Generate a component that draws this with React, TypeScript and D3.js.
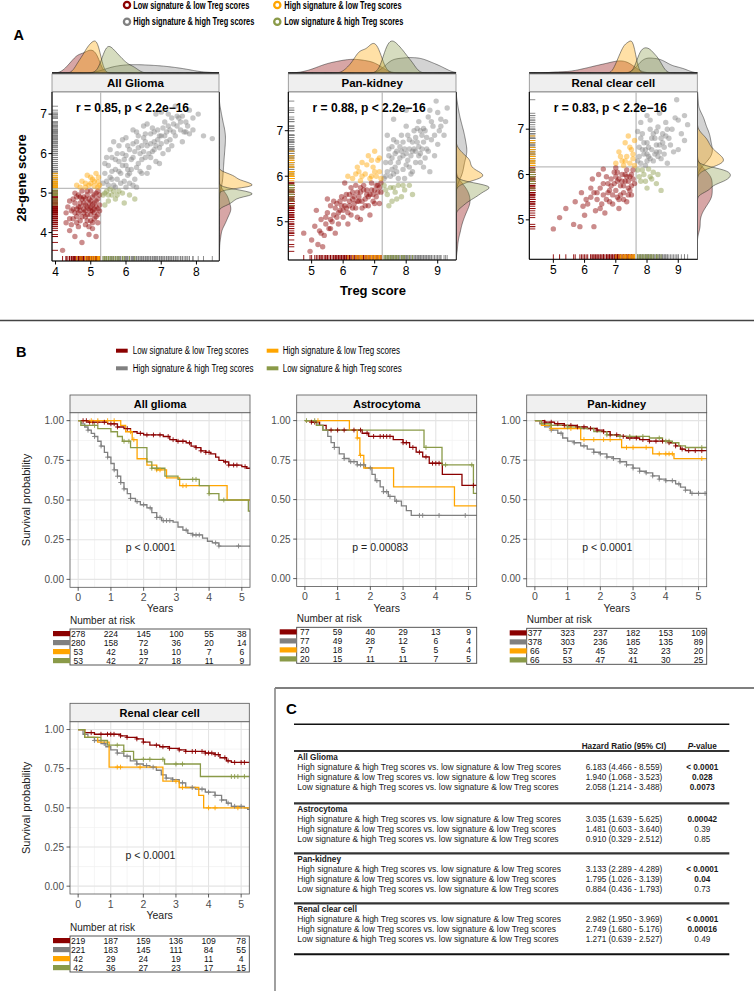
import React from 'react';
import * as d3 from 'd3';

type P = [number, number];
const FONT = "'Liberation Sans', Arial, Helvetica, sans-serif";

// ---------- groups ----------
const GROUP_LABELS = [
  'Low signature & low Treg scores',
  'High signature & high Treg scores',
  'High signature & low Treg scores',
  'Low signature & high Treg scores',
];
const GROUP_COLORS = ['#8B0000', '#808080', '#FFA500', '#8A9A48'];

// ---------- Panel A data (Treg score, 28-gene score) ----------
const GLIOMA_LL: P[] = [[4.3,4.5],[4.4,4.8],[4.45,4.2],[4.5,4.6],[4.55,5.0],[4.6,4.4],[4.6,4.9],[4.65,4.65],[4.7,4.3],[4.7,4.75],[4.75,5.05],[4.8,4.5],[4.8,4.9],[4.85,4.2],[4.85,4.7],[4.9,4.95],[4.9,4.45],[4.95,4.6],[5.0,4.8],[5.0,4.3],[5.0,5.05],[5.05,4.55],[5.1,4.75],[5.1,4.95],[5.15,4.4],[5.15,4.65],[5.2,4.85],[5.2,5.05],[5.25,4.55],[5.25,4.7],[4.4,4.05],[4.55,3.9],[4.75,3.75],[4.2,3.55],[5.05,4.1],[4.95,3.95],[4.65,4.15],[5.2,4.25],[4.5,4.35],[4.35,4.65],[4.9,5.05],[5.1,4.5],[4.8,4.6],[5.0,4.65],[4.7,4.55],[5.15,3.9],[4.55,4.75],[4.65,4.95],[4.75,4.4],[4.85,4.85],[4.95,4.75],[5.05,4.9],[5.15,4.8],[5.2,4.6],[4.7,4.9],[4.85,4.55],[5.0,4.45],[5.1,4.35],[4.6,4.6],[5.25,4.95],[4.9,4.3],[4.45,4.55],[4.5,4.85],[4.6,4.25],[4.7,4.65],[4.75,4.85],[4.8,4.75],[4.85,4.4],[4.9,4.65],[4.95,4.85],[5.0,4.55],[5.05,4.7],[5.1,4.6],[5.15,5.0],[5.2,4.45],[4.65,4.5],[4.55,4.5],[4.4,4.35],[4.3,4.25],[5.05,4.25],[4.95,4.15]];
const GLIOMA_HH: P[] = [[5.35,5.25],[5.4,5.5],[5.45,5.3],[5.5,5.7],[5.55,5.4],[5.6,5.9],[5.65,5.2],[5.7,5.6],[5.75,5.35],[5.8,5.8],[5.85,5.5],[5.9,6.0],[5.95,5.3],[6.0,5.7],[6.05,5.45],[6.1,6.1],[6.15,5.6],[6.2,5.9],[6.25,5.35],[6.3,6.3],[6.35,5.75],[6.4,6.0],[6.45,5.5],[6.5,6.4],[6.55,5.9],[6.6,6.2],[6.65,5.65],[6.7,6.5],[6.75,6.05],[6.8,6.3],[6.85,5.8],[6.9,6.6],[6.95,6.15],[7.0,6.45],[7.05,6.0],[7.1,6.8],[7.15,6.3],[7.2,7.0],[7.25,6.6],[7.3,6.2],[7.35,6.75],[7.4,6.45],[7.5,6.9],[7.55,6.6],[7.6,6.3],[7.7,6.8],[7.8,6.5],[7.9,6.9],[8.05,7.0],[8.2,6.45],[8.45,6.38],[6.2,6.6],[5.8,6.2],[6.0,6.4],[6.5,6.7],[7.0,7.05],[7.4,7.2],[6.3,5.15],[5.55,6.1],[6.1,5.25],[5.7,5.15],[7.8,7.1],[5.4,5.75],[5.5,5.2],[5.6,5.55],[5.75,6.0],[5.85,5.25],[5.95,5.85],[6.05,6.2],[6.1,5.5],[6.2,5.2],[6.25,6.05],[6.35,6.45],[6.4,5.55],[6.45,6.2],[6.55,6.5],[6.6,5.5],[6.7,5.9],[6.75,6.65],[6.8,6.1],[6.9,6.35],[6.95,5.75],[7.05,6.65],[7.15,6.55],[7.2,6.1],[7.3,6.9],[7.45,6.7],[7.6,6.95],[7.7,6.55],[6.0,5.15],[5.65,6.3],[6.85,7.0],[5.45,5.9],[5.6,5.35],[5.7,5.85],[5.8,5.55],[5.9,5.7],[6.0,5.95],[6.05,5.6],[6.15,5.85],[6.2,6.25],[6.3,5.65],[6.35,6.15],[6.45,5.85],[6.5,6.05],[6.55,6.3],[6.65,6.0],[6.7,6.25],[6.8,6.55],[6.85,6.2],[6.95,6.45],[7.0,6.25],[7.1,6.45],[7.2,6.7],[7.25,6.35],[7.35,6.55],[7.45,6.95],[7.55,6.8],[7.65,6.55],[7.75,6.7],[6.6,6.75],[6.3,6.55],[5.9,6.35],[7.9,6.6]];
const GLIOMA_HL: P[] = [[4.6,5.2],[4.75,5.3],[4.85,5.15],[4.9,5.45],[5.0,5.25],[5.05,5.35],[5.1,5.18],[5.15,5.5],[5.2,5.28],[5.22,5.4],[5.25,5.2],[4.95,5.2],[4.7,5.15],[5.1,5.3],[5.2,5.15],[4.85,5.25],[5.0,5.4]];
const GLIOMA_LH: P[] = [[5.35,4.95],[5.45,5.05],[5.5,4.8],[5.6,4.95],[5.7,4.85],[5.8,5.05],[5.95,4.75],[6.1,4.95],[5.4,4.7],[5.55,5.1],[6.25,4.85],[5.4,5.0],[5.5,4.95],[5.65,5.05],[5.75,4.95],[5.9,5.0]];

const PANKID_LL: P[] = [[4.75,4.75],[4.95,4.35],[5.0,4.6],[5.1,4.9],[5.2,4.5],[5.25,4.8],[5.3,5.05],[5.4,4.7],[5.45,4.95],[5.5,5.2],[5.55,4.85],[5.6,5.35],[5.65,5.0],[5.7,5.15],[5.8,5.4],[5.85,4.95],[5.9,5.25],[5.95,5.55],[6.0,5.1],[6.05,5.35],[6.1,5.6],[6.15,5.2],[6.2,5.45],[6.25,5.75],[6.3,5.3],[6.35,5.55],[6.4,5.8],[6.45,5.1],[6.5,5.45],[6.55,5.65],[6.6,5.3],[6.65,5.8],[6.7,5.5],[6.75,5.7],[6.8,5.35],[6.85,5.6],[6.9,5.85],[6.95,5.45],[7.0,5.7],[7.05,5.55],[7.1,5.8],[7.15,5.4],[7.2,5.65],[5.35,4.45],[5.75,4.75],[6.15,4.95],[6.55,5.05],[6.05,5.85],[5.5,5.5],[6.85,5.15],[7.2,5.85],[5.15,5.25],[5.6,5.05],[5.9,5.45],[6.1,5.3],[6.3,5.5],[6.45,5.65],[6.6,5.45],[6.75,5.6],[6.9,5.7],[7.0,5.4],[7.1,5.65],[6.4,5.3],[6.0,5.25],[5.75,5.3],[6.2,5.6],[6.65,5.7],[5.3,4.75],[5.45,5.1],[5.6,4.85],[5.7,5.45],[5.8,5.1],[5.95,5.35],[6.05,5.5],[6.2,5.35],[6.3,5.65],[6.35,5.4],[6.5,5.55],[6.55,5.75],[6.7,5.35],[6.8,5.55],[6.95,5.6],[7.05,5.8],[7.15,5.75],[6.45,5.45],[6.25,5.15],[5.85,5.2]];
const PANKID_HH: P[] = [[7.3,5.95],[7.35,6.3],[7.4,6.1],[7.45,6.6],[7.5,6.0],[7.55,6.4],[7.6,6.8],[7.65,6.2],[7.7,6.55],[7.75,5.95],[7.8,6.4],[7.85,6.9],[7.9,6.15],[7.95,6.6],[8.0,7.1],[8.05,6.35],[8.1,6.8],[8.15,6.05],[8.2,6.55],[8.25,7.0],[8.3,6.3],[8.35,6.75],[8.4,7.2],[8.45,6.5],[8.5,6.9],[8.55,6.2],[8.6,7.0],[8.65,6.6],[8.7,7.3],[8.8,6.8],[8.85,7.1],[8.9,6.45],[8.95,7.65],[9.05,7.0],[9.1,7.25],[9.2,6.9],[9.25,7.2],[9.3,7.5],[7.4,6.9],[7.6,7.25],[8.0,7.45],[8.2,6.1],[9.0,6.7],[8.75,6.1],[7.95,5.95],[7.5,6.3],[7.7,6.75],[7.9,6.45],[8.1,6.6],[8.3,6.85],[8.45,7.0],[8.6,6.4],[8.8,7.2],[9.0,7.4],[7.6,6.05],[8.0,6.25],[8.4,6.45],[8.55,6.75],[8.25,6.6],[7.8,6.65],[7.35,6.0],[7.45,6.45],[7.55,6.15],[7.65,6.5],[7.75,6.3],[7.85,6.55],[7.9,6.75],[8.0,6.5],[8.05,6.9],[8.15,6.45],[8.2,6.75],[8.3,6.55],[8.35,7.05],[8.4,6.65],[8.5,6.6],[8.55,7.05],[8.65,6.85],[8.7,6.55],[8.9,6.9],[9.1,7.1],[7.7,6.1],[8.1,6.2],[8.45,6.3],[7.55,6.65],[8.75,7.45]];
const PANKID_HL: P[] = [[6.15,6.0],[6.3,5.95],[6.45,6.2],[6.55,5.9],[6.6,6.3],[6.7,6.05],[6.8,6.45],[6.85,5.95],[6.95,6.2],[7.0,6.55],[7.05,6.0],[7.1,6.35],[7.15,6.1],[7.2,5.95],[6.9,6.0],[6.4,6.05],[6.5,6.1],[6.75,6.25],[7.0,6.1],[6.6,6.0],[7.15,6.4],[6.9,6.35]];
const PANKID_LH: P[] = [[7.3,5.8],[7.4,5.6],[7.5,5.75],[7.55,5.45],[7.65,5.65],[7.75,5.8],[7.85,5.55],[7.95,5.7],[8.1,5.8],[7.45,5.35],[8.2,5.6],[7.35,5.7],[7.6,5.75],[7.7,5.5],[7.9,5.8]];

const RCC_LL: P[] = [[5.0,4.8],[5.2,5.05],[5.4,5.25],[5.65,4.9],[5.85,4.85],[5.9,5.6],[6.0,5.1],[6.1,5.35],[6.2,5.5],[6.25,5.9],[6.3,4.85],[6.35,5.2],[6.4,5.45],[6.5,5.7],[6.55,5.35],[6.6,5.55],[6.7,5.95],[6.75,5.6],[6.8,5.4],[6.85,5.75],[6.9,5.55],[6.95,6.05],[7.0,5.65],[7.05,5.85],[7.1,5.45],[7.15,5.75],[7.2,6.0],[7.25,5.6],[7.3,5.85],[7.35,6.1],[7.4,5.7],[7.45,5.95],[7.5,5.55],[7.55,6.1],[7.6,5.8],[6.45,6.0],[6.65,5.15],[7.1,5.25],[6.2,5.7],[7.0,6.15],[6.6,6.12],[5.7,5.4],[7.35,5.4],[7.1,5.9],[7.25,5.75],[7.3,6.0],[7.4,5.85],[7.5,6.0],[7.15,5.55],[6.95,5.8],[7.45,5.65],[6.8,5.65],[7.05,6.05],[6.4,5.6],[6.6,5.8],[6.7,5.45],[6.85,5.9],[6.9,5.35],[7.0,5.95],[7.05,5.5],[7.2,5.85],[7.25,5.45],[7.35,5.95],[7.4,5.55],[7.5,5.75],[7.55,5.9],[6.75,5.8],[6.5,5.25],[6.3,5.6],[6.05,5.45],[5.95,5.3]];
const RCC_HH: P[] = [[7.7,6.3],[7.75,6.6],[7.8,6.25],[7.85,6.9],[7.9,6.45],[7.95,6.2],[8.0,6.7],[8.05,6.4],[8.1,7.0],[8.15,6.55],[8.2,6.3],[8.25,6.8],[8.3,6.5],[8.35,7.05],[8.4,6.65],[8.45,6.35],[8.5,6.9],[8.55,6.6],[8.6,7.15],[8.7,6.8],[8.8,7.0],[8.85,6.5],[8.95,7.65],[9.0,7.2],[9.1,6.9],[9.2,7.3],[9.3,7.1],[7.8,7.15],[8.0,7.3],[8.65,6.25],[9.0,6.55],[7.7,6.95],[8.1,6.35],[8.3,6.65],[8.45,6.8],[8.2,6.9],[7.95,6.55],[8.35,6.4],[8.6,6.85],[8.0,6.45],[7.75,6.4],[7.85,6.55],[7.9,6.7],[8.0,6.3],[8.05,6.6],[8.15,6.8],[8.25,6.45],[8.3,6.95],[8.4,6.5],[8.5,6.7],[8.55,6.45],[8.65,7.0],[8.75,6.65],[8.9,7.25],[9.2,6.75],[7.8,6.8],[8.1,7.2],[8.4,7.35]];
const RCC_HL: P[] = [[7.0,6.25],[7.1,6.5],[7.2,6.3],[7.3,6.7],[7.35,6.4],[7.45,6.25],[7.5,6.55],[7.55,6.35],[7.6,6.75],[7.4,6.85],[7.25,6.2],[7.6,6.2],[7.15,6.4],[7.3,6.3],[7.45,6.6],[7.55,6.45]];
const RCC_LH: P[] = [[7.7,6.1],[7.8,5.85],[7.9,6.0],[8.0,5.7],[8.1,5.95],[8.2,6.05],[8.3,5.8],[8.45,5.65],[7.75,5.95],[8.05,6.12],[7.85,6.1],[7.95,5.85],[8.15,5.9],[8.35,6.0]];

const SC_TITLES = ['All Glioma', 'Pan-kidney', 'Renal clear cell'];
const SC_R = ['r = 0.85, p < 2.2e\u221216', 'r = 0.88, p < 2.2e\u221216', 'r = 0.83, p < 2.2e\u221216'];
const SC_XDOM: P[] = [[3.9, 8.64], [4.26, 9.58], [4.23, 9.61]];
const SC_YDOM: P[] = [[3.28, 7.56], [4.16, 7.85], [4.13, 7.82]];
const SC_XTICKS = [[4, 5, 6, 7, 8], [5, 6, 7, 8, 9], [5, 6, 7, 8, 9]];
const SC_YTICKS = [[4, 5, 6, 7], [5, 6, 7], [5, 6, 7]];
const SC_THRX = [5.28, 7.24, 7.65];
const SC_THRY = [5.12, 5.87, 6.17];

// ---------- Panel B data ----------
const YEARS = [0, 1, 2, 3, 4, 5];
const YEARS_MINOR = [0.5, 1.5, 2.5, 3.5, 4.5];
const SURV_TICKS = [0, 0.25, 0.5, 0.75, 1];
const SURV_MINOR = [0.125, 0.375, 0.625, 0.875];
const KM_TITLES = ['All glioma', 'Astrocytoma', 'Pan-kidney', 'Renal clear cell'];
const KM_PVALS = ['p < 0.0001', 'p = 0.00083', 'p < 0.0001', 'p < 0.0001'];

const KM_GLIOMA_STEPS: P[][] = [
  [[0,1],[0.3,0.99],[0.9,0.98],[1.2,0.96],[1.4,0.95],[1.6,0.93],[1.8,0.92],[2.0,0.91],[2.6,0.9],[2.8,0.88],[3.0,0.87],[3.3,0.86],[3.45,0.84],[3.6,0.83],[3.75,0.81],[3.9,0.8],[4.05,0.79],[4.2,0.77],[4.3,0.75],[4.45,0.74],[4.6,0.72],[5.0,0.71],[5.15,0.7]],
  [[0,1],[0.1,0.98],[0.2,0.96],[0.3,0.94],[0.4,0.92],[0.5,0.9],[0.6,0.87],[0.7,0.84],[0.8,0.8],[0.9,0.77],[1.0,0.73],[1.1,0.69],[1.2,0.65],[1.3,0.61],[1.4,0.57],[1.5,0.54],[1.6,0.51],[1.75,0.49],[1.9,0.47],[2.1,0.45],[2.25,0.42],[2.4,0.39],[2.55,0.37],[2.9,0.36],[3.05,0.33],[3.2,0.31],[3.35,0.29],[3.5,0.28],[3.8,0.26],[3.95,0.24],[4.1,0.23],[4.3,0.21]],
  [[0,1],[1.3,0.97],[1.45,0.93],[1.65,0.88],[1.8,0.76],[2.1,0.72],[2.4,0.69],[2.7,0.64],[3.1,0.59],[4.55,0.5]],
  [[0,1],[0.08,0.97],[0.6,0.95],[1.0,0.93],[1.2,0.9],[1.35,0.87],[1.6,0.83],[2.1,0.74],[2.25,0.7],[2.65,0.65],[3.05,0.63],[3.7,0.59],[4.0,0.54],[4.3,0.5],[5.2,0.43]],
];
const KM_GLIOMA_CENS = [
  [0.15,0.25,0.35,0.45,0.6,0.8,1.0,1.1,1.2,1.5,1.9,2.1,2.3,2.5,2.75,2.9,3.05,3.2,3.4,3.6,3.75,3.9,4.0,4.5,4.6,4.75,4.85,5.1],
  [0.3,0.5,0.7,0.9,1.1,1.2,1.3,1.4,1.6,1.8,2.0,2.2,2.4,2.5,2.6,2.7,2.8,3.3,3.5,3.6,3.7,4.2,4.3,4.9],
  [0.4,0.6,0.9,1.1,1.6,1.7,2.4,2.5,3.2,3.3],
  [0.5,1.4,1.55,2.25,2.4,3.5,3.6,4.0,4.45],
];
const RISK_GLIOMA = [[278,224,145,100,55,38],[280,158,72,36,20,14],[53,42,19,10,7,6],[53,42,27,18,11,9]];

const KM_ASTRO_STEPS: P[][] = [
  [[0,1],[0.2,0.99],[0.45,0.97],[0.65,0.94],[1.75,0.92],[1.95,0.9],[2.7,0.88],[3.0,0.86],[3.2,0.83],[3.4,0.8],[3.6,0.77],[3.8,0.73],[4.2,0.66],[4.8,0.59]],
  [[0,1],[0.4,0.97],[0.55,0.94],[0.7,0.9],[0.8,0.86],[0.9,0.83],[1.05,0.79],[1.2,0.76],[1.35,0.74],[1.6,0.72],[1.85,0.7],[2.05,0.66],[2.15,0.62],[2.3,0.58],[2.4,0.55],[2.55,0.52],[2.75,0.49],[2.95,0.46],[3.1,0.43],[3.25,0.4]],
  [[0,1],[1.36,0.94],[1.6,0.89],[1.68,0.78],[1.8,0.7],[2.71,0.58],[4.57,0.46]],
  [[0,1],[0.35,0.97],[0.55,0.94],[3.64,0.83],[4.19,0.72],[5.15,0.54]],
];
const KM_ASTRO_CENS = [
  [0.2,0.3,0.8,1.0,1.2,1.5,1.7,1.9,2.1,2.3,2.4,2.5,2.6,3.0,3.1,3.3,3.5,3.7,3.9,4.0,4.1,5.15],
  [0.9,1.2,1.4,1.5,1.6,1.7,1.8,2.0,2.2,2.4,2.5,2.6,2.8,3.5,3.6,4.1,4.9],
  [0.4,1.6,1.7],
  [0.05,0.3,3.7,4.3,5.1],
];
const RISK_ASTRO = [[77,59,40,29,13,9],[77,49,28,12,6,4],[20,18,7,5,5,4],[20,15,11,11,7,5]];

const KM_PANKID_STEPS: P[][] = [
  [[0,1],[0.3,0.99],[0.6,0.98],[0.9,0.97],[1.3,0.96],[1.6,0.95],[1.9,0.94],[2.1,0.93],[2.3,0.91],[2.6,0.9],[2.8,0.89],[3.2,0.88],[3.5,0.87],[4.1,0.86],[4.3,0.84],[4.45,0.82],[4.6,0.81]],
  [[0,1],[0.15,0.98],[0.3,0.96],[0.5,0.94],[0.7,0.92],[0.85,0.89],[1.0,0.87],[1.2,0.86],[1.4,0.84],[1.6,0.82],[1.8,0.8],[2.0,0.79],[2.2,0.77],[2.4,0.76],[2.6,0.74],[2.8,0.72],[3.0,0.7],[3.2,0.68],[3.4,0.67],[3.6,0.65],[3.8,0.63],[4.0,0.62],[4.3,0.6],[4.45,0.58],[4.6,0.56],[4.75,0.54]],
  [[0,1],[0.2,0.97],[0.5,0.95],[1.4,0.88],[2.65,0.83],[3.6,0.79],[4.25,0.76]],
  [[0,1],[0.2,0.98],[0.5,0.97],[1.0,0.96],[1.4,0.95],[1.8,0.93],[2.2,0.91],[2.5,0.9],[3.5,0.89],[3.9,0.87],[4.2,0.86],[4.4,0.84],[4.6,0.83]],
];
const KM_PANKID_CENS = [
  [0.3,0.5,0.7,0.9,1.1,1.3,1.5,1.7,1.9,2.1,2.3,2.5,2.7,2.9,3.1,3.3,3.5,3.7,3.9,4.1,4.3,4.5,4.7,4.9,5.1],
  [0.5,0.8,1.2,1.5,1.8,2.0,2.2,2.4,2.6,2.8,3.0,3.2,3.4,3.6,3.8,4.0,4.2,4.4,4.6,4.8,5.0,5.2],
  [0.5,1.1,1.5,1.8,2.1,2.3,2.8,3.0,3.4,3.8,4.0,4.1,4.2,5.1],
  [0.5,1.0,2.2,2.6,2.9,3.3,3.8,4.0,4.1,5.1],
];
const RISK_PANKID = [[377,323,237,182,153,109],[378,303,236,185,135,89],[66,57,45,32,23,20],[66,53,47,41,30,25]];

const KM_RCC_STEPS: P[][] = [
  [[0,1],[0.2,0.98],[0.5,0.97],[1.3,0.96],[1.5,0.95],[1.8,0.94],[2.0,0.92],[2.2,0.9],[2.5,0.89],[2.8,0.88],[3.1,0.87],[3.3,0.86],[3.9,0.85],[4.2,0.84],[4.35,0.82],[4.55,0.8],[4.7,0.79]],
  [[0,1],[0.15,0.97],[0.3,0.95],[0.5,0.93],[0.7,0.91],[0.85,0.89],[1.0,0.87],[1.2,0.85],[1.4,0.83],[1.6,0.8],[1.8,0.78],[2.0,0.77],[2.2,0.76],[2.4,0.74],[2.55,0.71],[2.7,0.69],[2.9,0.68],[3.1,0.66],[3.3,0.63],[3.6,0.62],[3.9,0.6],[4.2,0.58],[4.4,0.55],[4.55,0.53],[4.7,0.51],[5.1,0.5],[5.2,0.49]],
  [[0,1],[0.2,0.95],[0.6,0.92],[0.95,0.76],[2.6,0.67],[3.1,0.63],[3.7,0.58],[3.85,0.5]],
  [[0,1],[0.2,0.95],[0.7,0.93],[0.9,0.9],[1.4,0.86],[1.7,0.81],[2.65,0.78],[3.75,0.7]],
];
const KM_RCC_CENS = [
  [0.4,0.7,0.9,1.0,1.1,1.3,1.5,1.8,2.0,2.4,2.6,2.8,3.1,3.3,3.5,3.6,3.8,3.9,4.0,4.1,4.2,4.3,4.5,4.6,4.8,5.0,5.1],
  [0.5,0.8,1.2,1.5,1.8,2.1,2.3,2.7,2.9,3.2,3.5,3.8,4.0,4.2,4.4,4.6,4.8,5.0],
  [1.2,1.3,1.9,3.0,3.2,4.0,4.2,4.9],
  [1.2,1.4,2.0,2.2,2.6,3.0,3.2,4.7,4.8,4.9,5.1],
];
const RISK_RCC = [[219,187,159,136,109,78],[221,183,145,111,84,55],[42,29,24,19,11,4],[42,36,27,23,17,15]];

// ---------- Panel C data ----------
const HR_SECTIONS = ['All Glioma', 'Astrocytoma', 'Pan-kidney', 'Renal clear cell'];
const HR_COMPARISONS = [
  'High signature & high Treg scores vs. low signature & low Treg scores',
  'High signature & low Treg scores vs. low signature & low Treg scores',
  'Low signature & high Treg scores vs. low signature & low Treg scores',
];
const HR_VALUES = [
  ['6.183 (4.466 - 8.559)', '1.940 (1.068 - 3.523)', '2.058 (1.214 - 3.488)'],
  ['3.035 (1.639 - 5.625)', '1.481 (0.603 - 3.640)', '0.910 (0.329 - 2.512)'],
  ['3.133 (2.289 - 4.289)', '1.795 (1.026 - 3.139)', '0.884 (0.436 - 1.793)'],
  ['2.982 (1.950 - 3.969)', '2.749 (1.680 - 5.176)', '1.271 (0.639 - 2.527)'],
];
const HR_PVALUES = [
  ['< 0.0001', '0.028', '0.0073'],
  ['0.00042', '0.39', '0.85'],
  ['< 0.0001', '0.04', '0.73'],
  ['< 0.0001', '0.00016', '0.49'],
];

// ---------- layout ----------
const SC_LAYOUT = [
  { left: 52, right: 219, top: 92, bottom: 261, stripTop: 74 },
  { left: 288.3, right: 456, top: 92, bottom: 260, stripTop: 74 },
  { left: 529.3, right: 697.3, top: 92, bottom: 259.3, stripTop: 74 },
];
const KM_LAYOUT = [
  { left: 70, right: 250, stripTop: 395, top: 412.7, bottom: 587.3, riskTop: 629, ylab: true },
  { left: 296.7, right: 476.7, stripTop: 395, top: 412.7, bottom: 586.5, riskTop: 627.3, ylab: false },
  { left: 526.7, right: 706.7, stripTop: 395, top: 412.7, bottom: 586.7, riskTop: 628.3, ylab: false },
  { left: 70, right: 249.3, stripTop: 703.3, top: 721.7, bottom: 894, riskTop: 936, ylab: true },
];
const HR_LABEL_WIDTHS = [263.7, 258.7, 261.3];
const LEGEND_A_WIDTHS = [116, 121, 117.3, 119];
const LEGEND_B_WIDTHS = [115.7, 120.7, 117.3, 119];

const SC_DATA = [
  [GLIOMA_LL, GLIOMA_HH, GLIOMA_HL, GLIOMA_LH],
  [PANKID_LL, PANKID_HH, PANKID_HL, PANKID_LH],
  [RCC_LL, RCC_HH, RCC_HL, RCC_LH],
];
const KM_DATA = [
  { steps: KM_GLIOMA_STEPS, cens: KM_GLIOMA_CENS, risk: RISK_GLIOMA },
  { steps: KM_ASTRO_STEPS, cens: KM_ASTRO_CENS, risk: RISK_ASTRO },
  { steps: KM_PANKID_STEPS, cens: KM_PANKID_CENS, risk: RISK_PANKID },
  { steps: KM_RCC_STEPS, cens: KM_RCC_CENS, risk: RISK_RCC },
];

function kde(vals: number[], grid: number[]): P[] {
  const n = vals.length;
  const sorted = [...vals].sort((a, b) => a - b);
  const sd = d3.deviation(vals) || 0.1;
  const iqr = (d3.quantileSorted(sorted, 0.75) as number) - (d3.quantileSorted(sorted, 0.25) as number);
  const s = Math.min(sd, iqr / 1.34 || sd);
  const bw = 0.9 * s * Math.pow(n, -0.2);
  return grid.map((g) => [
    g,
    (d3.mean(vals, (v) => Math.exp(-0.5 * ((g - v) / bw) ** 2)) as number) / (bw * Math.sqrt(2 * Math.PI)),
  ]);
}

function Scatter({ i }: { i: number }) {
  const L = SC_LAYOUT[i];
  const groups = SC_DATA[i];
  const xd = SC_XDOM[i];
  const yd = SC_YDOM[i];
  const x = d3.scaleLinear().domain(xd).range([L.left, L.right]);
  const y = d3.scaleLinear().domain(yd).range([L.bottom, L.top]);
  const gx = d3.range(0, 151).map((k) => xd[0] + ((xd[1] - xd[0]) * k) / 150);
  const gy = d3.range(0, 151).map((k) => yd[0] + ((yd[1] - yd[0]) * k) / 150);
  const topD = groups.map((g) => kde(g.map((p) => p[0]), gx));
  const rightD = groups.map((g) => kde(g.map((p) => p[1]), gy));
  const base = L.stripTop - 1;
  const mt = d3.max(topD.flat(), (d) => d[1]) as number;
  const mr = d3.max(rightD.flat(), (d) => d[1]) as number;
  const ht = d3.scaleLinear().domain([0, mt]).range([base, base - 32]);
  const wr = d3.scaleLinear().domain([0, mr]).range([L.right, L.right + 33]);
  const aTop = d3.area<P>().x((d) => x(d[0])).y0(base).y1((d) => ht(d[1]));
  const aRight = d3.area<P>().y((d) => y(d[0])).x0(L.right).x1((d) => wr(d[1]));
  const cx = (L.left + L.right) / 2;
  const drawOrder = [1, 0, 2, 3];
  return (
    <g>
      {topD.map((d, k) => (
        <path key={'t' + k} d={aTop(d) || ''} fill={GROUP_COLORS[k]} fillOpacity={0.35} stroke="#222" strokeWidth={0.5} />
      ))}
      {rightD.map((d, k) => (
        <path key={'r' + k} d={aRight(d) || ''} fill={GROUP_COLORS[k]} fillOpacity={0.35} stroke="#222" strokeWidth={0.5} />
      ))}
      <line x1={L.left} x2={L.right} y1={base} y2={base} stroke="#222" strokeWidth={0.6} />
      <rect x={L.left} y={L.stripTop} width={L.right - L.left} height={L.top - L.stripTop} fill="#EFEFEF" stroke="#8a8a8a" strokeWidth={0.8} />
      <text x={cx} y={(L.stripTop + L.top) / 2 + 4} textAnchor="middle" fontSize={11.5} fontWeight="bold">{SC_TITLES[i]}</text>
      <rect x={L.left} y={L.top} width={L.right - L.left} height={L.bottom - L.top} fill="#fff" stroke="#555" strokeWidth={0.6} />
      <line x1={x(SC_THRX[i])} x2={x(SC_THRX[i])} y1={L.top} y2={L.bottom} stroke="#BDBDBD" strokeWidth={1.3} />
      <line x1={L.left} x2={L.right} y1={y(SC_THRY[i])} y2={y(SC_THRY[i])} stroke="#BDBDBD" strokeWidth={1.3} />
      {drawOrder.map((k) =>
        groups[k].map((p, j) => (
          <circle key={k + '-' + j} cx={x(p[0])} cy={y(p[1])} r={2.7} fill={GROUP_COLORS[k]} fillOpacity={0.45} />
        ))
      )}
      {drawOrder.map((k) =>
        groups[k].map((p, j) => (
          <g key={'rug' + k + '-' + j}>
            <line x1={x(p[0])} x2={x(p[0])} y1={L.bottom} y2={L.bottom - 5} stroke={GROUP_COLORS[k]} strokeWidth={0.9} />
            <line x1={L.left} x2={L.left + 6} y1={y(p[1])} y2={y(p[1])} stroke={GROUP_COLORS[k]} strokeWidth={0.9} />
          </g>
        ))
      )}
      <text x={cx - 3} y={L.top + 20} textAnchor="middle" fontSize={12} fontWeight="bold">{SC_R[i]}</text>
      <line x1={L.left} x2={L.right} y1={L.bottom} y2={L.bottom} stroke="#000" strokeWidth={1.1} />
      <line x1={L.left} x2={L.left} y1={L.top} y2={L.bottom} stroke="#000" strokeWidth={1.1} />
      {SC_XTICKS[i].map((t) => (
        <g key={'xt' + t}>
          <line x1={x(t)} x2={x(t)} y1={L.bottom} y2={L.bottom + 3.5} stroke="#000" strokeWidth={1} />
          <text x={x(t)} y={L.bottom + 15} textAnchor="middle" fontSize={12}>{t}</text>
        </g>
      ))}
      {SC_YTICKS[i].map((t) => (
        <g key={'yt' + t}>
          <line x1={L.left - 3.5} x2={L.left} y1={y(t)} y2={y(t)} stroke="#000" strokeWidth={1} />
          <text x={L.left - 5} y={y(t) + 4.3} textAnchor="end" fontSize={12}>{t}</text>
        </g>
      ))}
    </g>
  );
}

function survAt(steps: P[], t: number) {
  let s = 1;
  for (const p of steps) if (p[0] <= t) s = p[1];
  return s;
}

function KM({ i }: { i: number }) {
  const L = KM_LAYOUT[i];
  const D = KM_DATA[i];
  const x = d3.scaleLinear().domain([-0.25, 5.25]).range([L.left, L.right]);
  const y = d3.scaleLinear().domain([-0.05, 1.05]).range([L.bottom, L.top]);
  const line = d3.line<P>().x((d) => x(d[0])).y((d) => y(d[1])).curve(d3.curveStepAfter);
  const clipId = 'kmclip' + i;
  const cx = (L.left + L.right) / 2;
  return (
    <g>
      <defs>
        <clipPath id={clipId}>
          <rect x={L.left} y={L.top} width={L.right - L.left} height={L.bottom - L.top} />
        </clipPath>
      </defs>
      <rect x={L.left} y={L.top} width={L.right - L.left} height={L.bottom - L.top} fill="#fff" />
      {YEARS_MINOR.map((t) => (
        <line key={'xm' + t} x1={x(t)} x2={x(t)} y1={L.top} y2={L.bottom} stroke="#F1F1F1" strokeWidth={0.7} />
      ))}
      {SURV_MINOR.map((t) => (
        <line key={'ym' + t} x1={L.left} x2={L.right} y1={y(t)} y2={y(t)} stroke="#F1F1F1" strokeWidth={0.7} />
      ))}
      {YEARS.map((t) => (
        <line key={'xg' + t} x1={x(t)} x2={x(t)} y1={L.top} y2={L.bottom} stroke="#E4E4E4" strokeWidth={1.1} />
      ))}
      {SURV_TICKS.map((t) => (
        <line key={'yg' + t} x1={L.left} x2={L.right} y1={y(t)} y2={y(t)} stroke="#E4E4E4" strokeWidth={1.1} />
      ))}
      <g clipPath={`url(#${clipId})`}>
        {D.steps.map((st, k) => {
          const last = st[st.length - 1];
          const pts: P[] = [...st, [5.3, last[1]]];
          return <path key={'c' + k} d={line(pts) || ''} fill="none" stroke={GROUP_COLORS[k]} strokeWidth={1.3} />;
        })}
        {D.cens.map((cs, k) =>
          cs.map((t, j) => {
            const px = x(t);
            const py = y(survAt(D.steps[k], t));
            return (
              <path key={'cen' + k + '-' + j} d={`M${px - 2.4},${py}H${px + 2.4}M${px},${py - 2.4}V${py + 2.4}`} stroke={GROUP_COLORS[k]} strokeWidth={0.9} />
            );
          })
        )}
      </g>
      <rect x={L.left} y={L.top} width={L.right - L.left} height={L.bottom - L.top} fill="none" stroke="#555" strokeWidth={0.8} />
      <rect x={L.left} y={L.stripTop} width={L.right - L.left} height={L.top - L.stripTop} fill="#F0F0F0" stroke="#555" strokeWidth={0.8} />
      <text x={cx} y={(L.stripTop + L.top) / 2 + 4} textAnchor="middle" fontSize={11} fontWeight="bold">{KM_TITLES[i]}</text>
      {YEARS.map((t) => (
        <g key={'xt' + t}>
          <line x1={x(t)} x2={x(t)} y1={L.bottom} y2={L.bottom + 3.5} stroke="#333" strokeWidth={0.8} />
          <text x={x(t)} y={L.bottom + 13.5} textAnchor="middle" fontSize={10.5} fill="#4D4D4D">{t}</text>
        </g>
      ))}
      {SURV_TICKS.map((t) => (
        <g key={'yt' + t}>
          <line x1={L.left - 3.5} x2={L.left} y1={y(t)} y2={y(t)} stroke="#333" strokeWidth={0.8} />
          <text x={L.left - 6} y={y(t) + 3.7} textAnchor="end" fontSize={10} fill="#4D4D4D">{t.toFixed(2)}</text>
        </g>
      ))}
      <text x={cx} y={L.bottom + 25} textAnchor="middle" fontSize={10.5} fill="#222">Years</text>
      {L.ylab && (
        <text transform={`translate(${L.left - 40},${(L.top + L.bottom) / 2}) rotate(-90)`} textAnchor="middle" fontSize={11} fill="#222">
          Survival probability
        </text>
      )}
      <text x={x(1.45)} y={y(0.2) + 3.8} fontSize={10.5} fill="#222">{KM_PVALS[i]}</text>
      <text x={L.left} y={L.riskTop - 5} fontSize={10} fill="#222">Number at risk</text>
      <rect x={L.left} y={L.riskTop} width={L.right - L.left} height={36} fill="#fff" stroke="#444" strokeWidth={0.9} />
      {D.risk.map((row, k) => {
        const cy = L.riskTop + 4.6 + k * 9;
        return (
          <g key={'rk' + k}>
            <rect x={L.left - 17} y={cy - 2.6} width={17} height={5.2} fill={GROUP_COLORS[k]} />
            {row.map((v, j) => (
              <text key={j} x={x(YEARS[j])} y={cy + 3.1} textAnchor="middle" fontSize={8.6} fill="#111">{v}</text>
            ))}
          </g>
        );
      })}
    </g>
  );
}

function HRTable() {
  const lx = 297.3;
  const hrX = 624;
  const pX = 702.3;
  const sepY = [751, 803.3, 853.3, 903.3];
  const isBold = (s: string) => parseFloat(s.replace('<', '').trim()) < 0.05;
  return (
    <g fontSize={8.2} fill="#1a1a1a">
      <text x={286} y={714} fontSize={15} fontWeight="bold" fill="#000">C</text>
      <line x1={294} x2={729.3} y1={724.3} y2={724.3} stroke="#111" strokeWidth={1.4} />
      <text x={hrX} y={749} textAnchor="middle" fontWeight="bold">Hazard Ratio (95% CI)</text>
      <text x={pX} y={749} textAnchor="middle" fontWeight="bold">
        <tspan fontStyle="italic">P</tspan>-value
      </text>
      {HR_SECTIONS.map((sec, k) => {
        const ly = sepY[k];
        const hy = ly + 5.5;
        return (
          <g key={sec}>
            <line x1={294} x2={729.3} y1={ly} y2={ly} stroke="#333" strokeWidth={2.2} />
            <text x={lx} y={hy + 3} fontWeight="bold">{sec}</text>
            {HR_COMPARISONS.map((c, j) => {
              const ry = hy + 10 * (j + 1) + 3;
              const pv = HR_PVALUES[k][j];
              return (
                <g key={j}>
                  <text x={lx} y={ry} textLength={HR_LABEL_WIDTHS[j]} lengthAdjust="spacingAndGlyphs">{c}</text>
                  <text x={hrX} y={ry} textAnchor="middle">{HR_VALUES[k][j]}</text>
                  <text x={pX} y={ry} textAnchor="middle" fontWeight={isBold(pv) ? 'bold' : 'normal'}>{pv}</text>
                </g>
              );
            })}
          </g>
        );
      })}
      <line x1={294} x2={729.3} y1={954.3} y2={954.3} stroke="#111" strokeWidth={2} />
    </g>
  );
}

export default function App() {
  const legA = [
    { g: 0, mx: 127, tx: 133.3, y: 5 },
    { g: 1, mx: 127, tx: 133.3, y: 21.7 },
    { g: 2, mx: 277.3, tx: 284.3, y: 5 },
    { g: 3, mx: 277.3, tx: 284.3, y: 21.7 },
  ];
  const legB = [
    { g: 0, mx: 116, tx: 132.7, y: 350.7 },
    { g: 1, mx: 116, tx: 132.7, y: 368.3 },
    { g: 2, mx: 266.7, tx: 282.7, y: 350.7 },
    { g: 3, mx: 266.7, tx: 282.7, y: 368.3 },
  ];
  return (
    <svg width={754} height={991} viewBox="0 0 754 991" style={{ position: 'absolute', left: 0, top: 0 }} fontFamily={FONT}>
      <rect width={754} height={991} fill="#fff" />
      <text x={13.5} y={40} fontSize={14.5} fontWeight="bold">A</text>
      {legA.map((l) => (
        <g key={'la' + l.g}>
          <circle cx={l.mx} cy={l.y} r={3.1} fill="#fff" stroke={GROUP_COLORS[l.g]} strokeWidth={2.3} />
          <text x={l.tx} y={l.y + 3.6} fontSize={10} fontWeight="bold" textLength={LEGEND_A_WIDTHS[l.g]} lengthAdjust="spacingAndGlyphs">
            {GROUP_LABELS[l.g]}
          </text>
        </g>
      ))}
      {[0, 1, 2].map((i) => (
        <Scatter key={'sc' + i} i={i} />
      ))}
      <text transform="translate(26,178) rotate(-90)" textAnchor="middle" fontSize={13} fontWeight="bold">28-gene score</text>
      <text x={373} y={295} textAnchor="middle" fontSize={13} fontWeight="bold">Treg score</text>
      <line x1={0} x2={754} y1={320.5} y2={320.5} stroke="#444" strokeWidth={1.5} />

      <text x={16} y={356.5} fontSize={14.5} fontWeight="bold">B</text>
      {legB.map((l) => (
        <g key={'lb' + l.g}>
          <rect x={l.mx} y={l.y - 2} width={11.7} height={4} fill={GROUP_COLORS[l.g]} />
          <text x={l.tx} y={l.y + 3.6} fontSize={10} textLength={LEGEND_B_WIDTHS[l.g]} lengthAdjust="spacingAndGlyphs">
            {GROUP_LABELS[l.g]}
          </text>
        </g>
      ))}
      {[0, 1, 2, 3].map((i) => (
        <KM key={'km' + i} i={i} />
      ))}
      <line x1={275} x2={754} y1={688} y2={688} stroke="#555" strokeWidth={1.3} />
      <line x1={275} x2={275} y1={688} y2={991} stroke="#888" strokeWidth={1.6} />

      <HRTable />
    </svg>
  );
}
